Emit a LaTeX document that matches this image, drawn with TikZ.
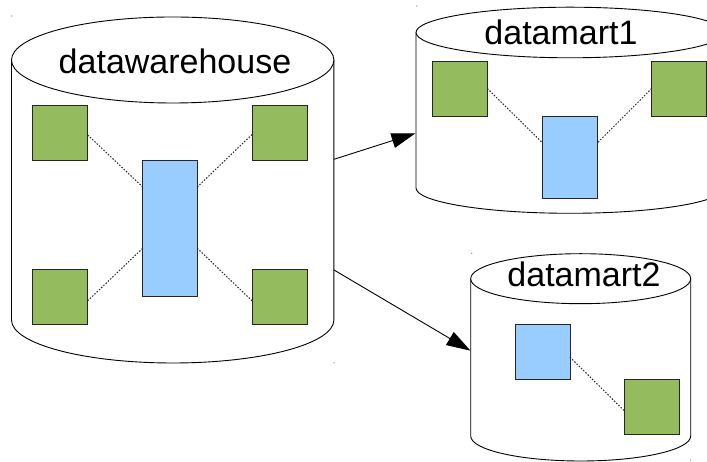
\documentclass[tikz,border=0pt]{standalone}
\usepackage{fontspec}
\setmainfont{Liberation Sans}
\usetikzlibrary{arrows.meta}
\definecolor{boxgreen}{HTML}{94BC5E}
\definecolor{boxblue}{HTML}{99CCFF}
\tikzset{
  greenbox/.style={draw=black!85, fill=boxgreen, line width=0.9pt, minimum width=55pt, minimum height=55pt, inner sep=0pt, outer sep=0pt, anchor=north west},
  bluebox/.style={draw=black!85, fill=boxblue, line width=0.9pt, inner sep=0pt, outer sep=0pt, anchor=north west},
  link/.style={draw=black!85, line width=1pt, dash pattern=on 1.5pt off 1.6pt},
  flow/.style={draw=black, line width=0.9pt, -{Triangle[length=24pt,width=15pt]}},
  cylbody/.style={draw=black, line width=0.9pt, fill=white},
  title/.style={font=\fontsize{34}{40}\selectfont, anchor=base, inner sep=0pt},
  speck/.style={fill=black!55}
}
\newcommand\mycyl[5]{% cx, Ytop, Ybottom, rx, ry
  \path[cylbody] (#1-#4,#2) -- (#1-#4,#3) arc[start angle=180, end angle=360, x radius=#4, y radius=#5] -- (#1+#4,#2);
  \path[cylbody] (#1,#2) ellipse[x radius=#4, y radius=#5];
}
\begin{document}
\begin{tikzpicture}[x=1pt, y=1pt]
  \useasboundingbox (0,0) rectangle (707,462);
  \clip (0,0) rectangle (707,462);
  % cylinders
  \mycyl{172.7}{402}{142}{161.2}{43}
  \mycyl{570}{429.5}{274}{154}{25.3}
  \mycyl{580.7}{183.3}{26}{110}{25}
  % titles
  \node[title] (tdw) at (175,388) {datawarehouse};
  \node[title] (tdm1) at (561,417) {datamart1};
  \node[title] (tdm2) at (584,175) {datamart2};
  % datawarehouse boxes
  \node[greenbox] (g1) at (32.7,357) {};
  \node[greenbox] (g2) at (252,357) {};
  \node[greenbox] (g3) at (32.7,192.7) {};
  \node[greenbox] (g4) at (252,192.7) {};
  \node[bluebox, minimum width=54.6pt, minimum height=136.7pt] (b1) at (142.7,302) {};
  \draw[link] ([yshift=-2.5pt]g1.east) -- ([yshift=-27pt]b1.north west);
  \draw[link] ([yshift=-2pt]g2.west) -- ([yshift=-27pt]b1.north east);
  \draw[link] ([yshift=-4pt]g3.east) -- ([yshift=48.4pt]b1.south west);
  \draw[link] ([yshift=-4pt]g4.west) -- ([yshift=48.4pt]b1.south east);
  % datamart1 boxes
  \node[greenbox] (g5) at (432.3,401) {};
  \node[greenbox] (g6) at (651.7,401) {};
  \node[bluebox, minimum width=54.6pt, minimum height=82.3pt] (b2) at (542.7,346) {};
  \draw[link] (g5.east) -- ([yshift=-27pt]b2.north west);
  \draw[link] (g6.west) -- ([yshift=-27pt]b2.north east);
  % datamart2 boxes
  \node[bluebox, minimum width=55pt, minimum height=55.3pt] (b3) at (515,138) {};
  \node[greenbox] (g7) at (624.3,82.7) {};
  \draw[link] ([yshift=-5.5pt]b3.east) -- ([yshift=-4pt]g7.west);
  % flow arrows
  \coordinate (dwout1) at (334,302.7);
  \coordinate (dwout2) at (334,192);
  \coordinate (dm1in) at (415.5,328.7);
  \coordinate (dm2in) at (470.5,111.3);
  \draw[flow] (dwout1) -- (dm1in);
  \draw[flow] (dwout2) -- (dm2in);
  % selection specks
  \fill[speck] (11.7,446) circle[radius=0.6];
  \fill[speck] (334,99.3) circle[radius=0.6];
  \fill[speck] (416.7,456) circle[radius=0.6];
  \fill[speck] (471.7,208.7) circle[radius=0.6];
  \fill[speck] (690.7,2) circle[radius=0.6];
\end{tikzpicture}
\end{document}
